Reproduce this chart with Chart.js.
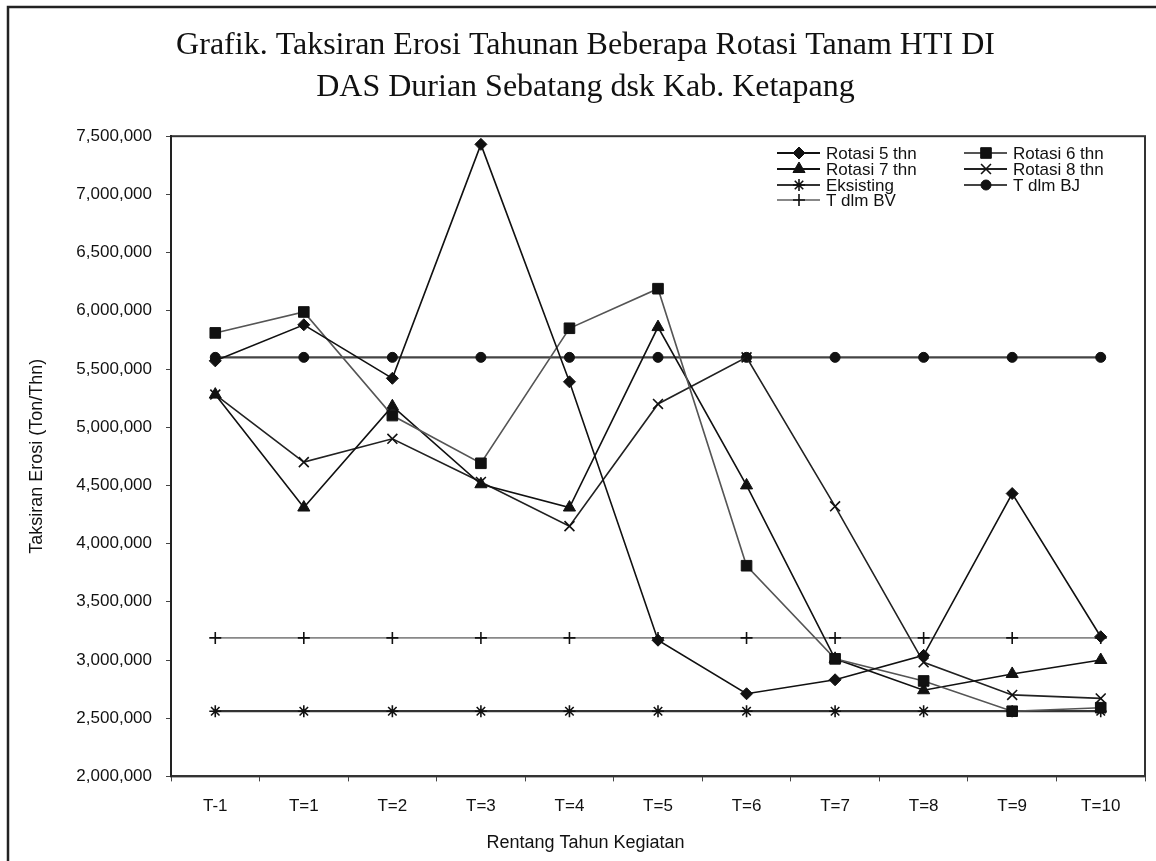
<!DOCTYPE html>
<html>
<head>
<meta charset="utf-8">
<script src="https://cdn.jsdelivr.net/npm/chart.js@4.4.1/dist/chart.umd.min.js"></script>
<style>
  html, body { margin: 0; padding: 0; background: #fff; }
  #wrap { width: 1156px; height: 861px; position: relative; }
</style>
</head>
<body>
<div id="wrap"><canvas id="grafik" width="1156" height="861"></canvas></div>
<script>
// Data dibaca dari gambar referensi
const kategori = ['T-1', 'T=1', 'T=2', 'T=3', 'T=4', 'T=5', 'T=6', 'T=7', 'T=8', 'T=9', 'T=10'];
const rotasi5 = [5570000, 5880000, 5420000, 7430000, 5390000, 3170000, 2710000, 2830000, 3040000, 4430000, 3200000];
const rotasi6 = [5810000, 5990000, 5100000, 4690000, 5850000, 6190000, 3810000, 3010000, 2820000, 2560000, 2590000];
const rotasi7 = [5280000, 4310000, 5180000, 4510000, 4310000, 5860000, 4500000, 3010000, 2740000, 2880000, 3000000];
const rotasi8 = [5280000, 4700000, 4900000, 4530000, 4150000, 5200000, 5600000, 4320000, 2980000, 2700000, 2670000];
const eksisting = [2560000, 2560000, 2560000, 2560000, 2560000, 2560000, 2560000, 2560000, 2560000, 2560000, 2560000];
const tDlmBJ = [5600000, 5600000, 5600000, 5600000, 5600000, 5600000, 5600000, 5600000, 5600000, 5600000, 5600000];
const tDlmBV = [3190000, 3190000, 3190000, 3190000, 3190000, 3190000, 3190000, 3190000, 3190000, 3190000, 3190000];

const judul = ['Grafik. Taksiran Erosi Tahunan Beberapa Rotasi Tanam HTI DI', 'DAS Durian Sebatang dsk Kab. Ketapang'];
const judulY = 'Taksiran Erosi (Ton/Thn)';
const judulX = 'Rentang Tahun Kegiatan';

const HITAM = '#111';

function seri(label, data, garis, lebar, bentuk, radius) {
    return {
        label: label, data: data,
        borderColor: garis, borderWidth: lebar,
        pointStyle: bentuk, pointRadius: radius, pointHoverRadius: radius,
        pointBackgroundColor: HITAM, pointBorderColor: HITAM,
        pointBorderWidth: (bentuk === 'cross' || bentuk === 'crossRot' || bentuk === 'star') ? 1.6 : 1,
        tension: 0, fill: false
    };
}

// bingkai luar + kotak area plot
const bingkai = {
    id: 'bingkai',
    beforeDraw(chart) {
        const ctx = chart.ctx;
        ctx.save();
        ctx.fillStyle = '#fff';
        ctx.fillRect(0, 0, chart.width, chart.height);
        ctx.strokeStyle = '#222';
        ctx.lineWidth = 2.5;
        ctx.beginPath();
        ctx.moveTo(8, chart.height);
        ctx.lineTo(8, 7);
        ctx.lineTo(chart.width, 7);
        ctx.stroke();
        const a = chart.chartArea;
        ctx.lineWidth = 2;
        ctx.strokeStyle = '#333';
        ctx.strokeRect(a.left, a.top, a.right - a.left, a.bottom - a.top);
        ctx.restore();
    }
};

// legenda dua kolom di dalam area plot
const legenda = {
    id: 'legenda',
    afterDraw(chart) {
        const ctx = chart.ctx;
        const kolomX = [777, 964];
        const barisY = [153, 169, 185, 200];
        ctx.save();
        ctx.font = '17px "Liberation Sans", Arial, sans-serif';
        ctx.textBaseline = 'middle';
        ctx.textAlign = 'left';
        chart.data.datasets.forEach((ds, i) => {
            const x = kolomX[i % 2];
            const y = barisY[Math.floor(i / 2)];
            ctx.strokeStyle = ds.borderColor;
            ctx.lineWidth = 2;
            ctx.beginPath();
            ctx.moveTo(x, y);
            ctx.lineTo(x + 43, y);
            ctx.stroke();
            ctx.fillStyle = HITAM;
            ctx.strokeStyle = HITAM;
            ctx.lineWidth = ds.pointBorderWidth;
            Chart.helpers.drawPoint(ctx, { pointStyle: ds.pointStyle, radius: ds.pointRadius, rotation: 0, borderWidth: ds.pointBorderWidth }, x + 22, y);
            ctx.fillStyle = HITAM;
            ctx.fillText(ds.label, x + 49, y + 1);
        });
        ctx.restore();
    }
};

const ctx = document.getElementById('grafik').getContext('2d');
const chart = new Chart(ctx, {
    type: 'line',
    data: {
        labels: kategori,
        datasets: [
            seri('Rotasi 5 thn', rotasi5, '#111', 1.6, 'rectRot', 6),
            seri('Rotasi 6 thn', rotasi6, '#555', 1.6, 'rect', 7.5),
            seri('Rotasi 7 thn', rotasi7, '#111', 1.6, 'triangle', 7),
            seri('Rotasi 8 thn', rotasi8, '#222', 1.6, 'crossRot', 7),
            seri('Eksisting', eksisting, '#333', 2.2, 'star', 6),
            seri('T dlm BJ', tDlmBJ, '#444', 2.2, 'circle', 5),
            seri('T dlm BV', tDlmBV, '#888', 1.6, 'cross', 6)
        ]
    },
    options: {
        responsive: false,
        animation: false,
        events: [],
        layout: { padding: { left: 26, right: 11, top: 0, bottom: 0 } },
        plugins: {
            legend: { display: false },
            tooltip: { enabled: false },
            title: {
                display: true,
                text: judul,
                color: HITAM,
                font: { family: '"Liberation Serif", "Times New Roman", serif', size: 32, weight: 'normal', lineHeight: 1.3 },
                padding: { top: 25, bottom: 28 }
            },
            subtitle: {
                display: true,
                position: 'bottom',
                text: judulX,
                color: HITAM,
                font: { family: '"Liberation Sans", Arial, sans-serif', size: 18, weight: 'normal', lineHeight: 1.2 },
                padding: { top: 10, bottom: 7 }
            }
        },
        scales: {
            x: {
                type: 'category',
                offset: true,
                grid: { display: true, drawOnChartArea: false, offset: true, drawTicks: true, tickLength: 5, color: '#444', lineWidth: 1 },
                border: { display: true, color: '#333', width: 2 },
                ticks: { color: HITAM, padding: 15, maxRotation: 0, autoSkip: false, font: { family: '"Liberation Sans", Arial, sans-serif', size: 17 } },
                afterFit: (s) => { s.height = 46; }
            },
            y: {
                min: 2000000,
                max: 7500000,
                ticks: {
                    stepSize: 500000,
                    color: HITAM,
                    padding: 14,
                    font: { family: '"Liberation Sans", Arial, sans-serif', size: 17 },
                    callback: (v) => v.toLocaleString('en-US')
                },
                grid: { display: true, drawOnChartArea: false, drawTicks: true, tickLength: 5, color: '#444', lineWidth: 1 },
                border: { display: true, color: '#222', width: 2 },
                title: {
                    display: true,
                    text: judulY,
                    color: HITAM,
                    font: { family: '"Liberation Sans", Arial, sans-serif', size: 18, weight: 'normal', lineHeight: 1.2 },
                    padding: { top: 0, bottom: 0 }
                },
                afterFit: (s) => { s.width = 145; }
            }
        }
    },
    plugins: [bingkai, legenda]
});
</script>
</body>
</html>
